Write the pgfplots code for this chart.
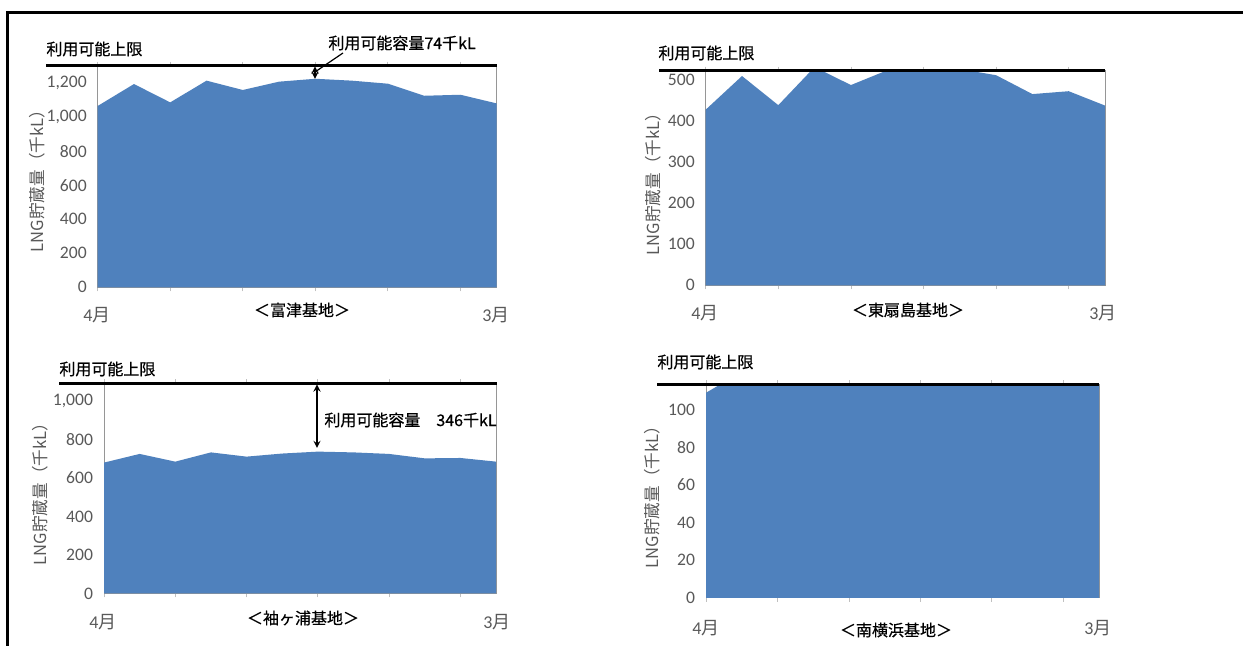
\documentclass[border=0pt]{standalone}
\usepackage{fontspec}
\setmainfont{Noto Sans CJK JP}
\newfontfamily\numfont{Carlito}
\newfontfamily\jpm[FakeBold=0.5]{Noto Sans CJK JP}
\usepackage{pgfplots}
\pgfplotsset{compat=1.18}
\definecolor{areablue}{RGB}{79,129,189}
\definecolor{tickgray}{RGB}{89,89,89}
\definecolor{axgray}{RGB}{150,150,150}

\pgfplotsset{panel/.style={
  scale only axis, anchor=south west,
  xmin=0, xmax=11, ymin=0,
  xtick={0,2,4,6,8,10}, xticklabels={},
  tick align=outside,
  major tick length=2pt,
  xtick style={draw=axgray!60, line width=0.4pt},
  ytick style={draw=none},
  axis line style={draw=axgray, line width=0.5pt},
  yticklabel style={font=\numfont\fontsize{8.8}{10}\selectfont, text=tickgray, inner sep=0pt, anchor=east, xshift=-3.3pt},
  /pgf/number format/assume math mode=true,
  /pgf/number format/1000 sep={,},
  scaled y ticks=false,
}}

\begin{document}
\begin{tikzpicture}
\useasboundingbox (0,0) rectangle (621.5pt,323pt);
\fill[white] (0,0) rectangle (621.5pt,323pt);

% Panel 1: 富津
\begin{axis}[panel, at={(48.85pt,179.35pt)}, width=199.5pt, height=110.8pt,
  ymax=1304, ytick={0,200,400,600,800,1000,1200}]
\addplot[fill=areablue, draw=none] coordinates {
 (0,1067) (1,1196) (2,1088) (3,1216) (4,1161) (5,1210)
 (6,1227) (7,1216) (8,1198) (9,1127) (10,1133) (11,1082)} \closedcycle;
\end{axis}

% Panel 2: 東扇島
\begin{axis}[panel, at={(352.85pt,180.35pt)}, width=199.65pt, height=107.3pt,
  ymax=523, ytick={0,100,200,300,400,500}]
\addplot[fill=areablue, draw=none] coordinates {
 (0,428) (1,510) (2,439) (3,532) (4,488) (5,524)
 (6,535) (7,527) (8,512) (9,466) (10,473) (11,438)} \closedcycle;
\end{axis}

% Panel 3: 袖ヶ浦
\begin{axis}[panel, at={(52pt,26.25pt)}, width=196pt, height=105.1pt,
  ymax=1092, ytick={0,200,400,600,800,1000}]
\addplot[fill=areablue, draw=none] coordinates {
 (0,680) (1,725) (2,685) (3,733) (4,711) (5,727)
 (6,737) (7,733) (8,725) (9,702) (10,704) (11,685)} \closedcycle;
\end{axis}

% Panel 4: 南横浜
\begin{axis}[panel, at={(353pt,24pt)}, width=196.5pt, height=106.85pt,
  ymax=113.4, ytick={0,20,40,60,80,100}]
\addplot[fill=areablue, draw=none] coordinates {
 (0,108.9) (1,120) (2,122) (3,124) (4,123) (5,125)
 (6,126) (7,125) (8,124) (9,122) (10,121) (11,120)} \closedcycle;
\end{axis}

\begin{scope}[x=0.5pt,y=-0.5pt,shift={(0pt,323pt)},
  jp/.style={font=\jpm\fontsize{8}{9.6}\selectfont, inner sep=0pt},
  yl/.style={font=\fontsize{8.3}{10}\selectfont, inner sep=0pt, rotate=90, text=tickgray},
  mo/.style={font=\fontsize{9}{10}\selectfont, inner sep=0pt, text=tickgray},
  lim/.style={line width=1.25pt, black}]
% outer frame
\fill[white] (1200,16) rectangle (1243,646);
\draw[line width=1.5pt] (7,646) -- (7,13);
\draw[line width=1.5pt] (6.25,13) -- (1243,13);

% Panel 1
\draw[lim] (46,65.7) -- (497,65.7);
\node[jp, anchor=west] at (46,49) {利用可能上限};
\node[jp, anchor=west] at (328,43) {利用可能容量74千kL};
\draw[line width=0.6pt] (343,53) -- (316.5,71);
\draw[<->, >=stealth, line width=0.6pt] (315,66.5) -- (315,79);
\node[yl] at (37,177) {LNG貯蔵量（千kL）};
\node[mo] at (97,315) {{\numfont 4}月};
\node[mo] at (496,315) {{\numfont 3}月};
\node[jp] at (302,310) {＜富津基地＞};

% Panel 2
\draw[lim] (659,70.7) -- (1105,70.7);
\node[jp, anchor=west] at (658,53) {利用可能上限};
\node[yl] at (653,180) {LNG貯蔵量（千kL）};
\node[mo] at (705,313) {{\numfont 4}月};
\node[mo] at (1103,313) {{\numfont 3}月};
\node[jp] at (908,310) {＜東扇島基地＞};

% Panel 3
\draw[lim] (59,383.3) -- (497,383.3);
\node[jp, anchor=west] at (59,369) {利用可能上限};
\draw[<->, >=stealth, line width=0.6pt] (317,384.5) -- (317,448);
\node[jp, anchor=west] at (324,420) {利用可能容量　346千kL};
\node[yl] at (40,490) {LNG貯蔵量（千kL）};
\node[mo] at (103,621.7) {{\numfont 4}月};
\node[mo] at (497,621.7) {{\numfont 3}月};
\node[jp] at (303,618) {＜袖ヶ浦基地＞};

% Panel 4
\draw[lim] (657,384.3) -- (1099,384.3);
\node[jp, anchor=west] at (657,362) {利用可能上限};
\node[yl] at (652,493) {LNG貯蔵量（千kL）};
\node[mo] at (706,628) {{\numfont 4}月};
\node[mo] at (1098,628) {{\numfont 3}月};
\node[jp] at (896,630) {＜南横浜基地＞};
\end{scope}
\end{tikzpicture}
\end{document}
